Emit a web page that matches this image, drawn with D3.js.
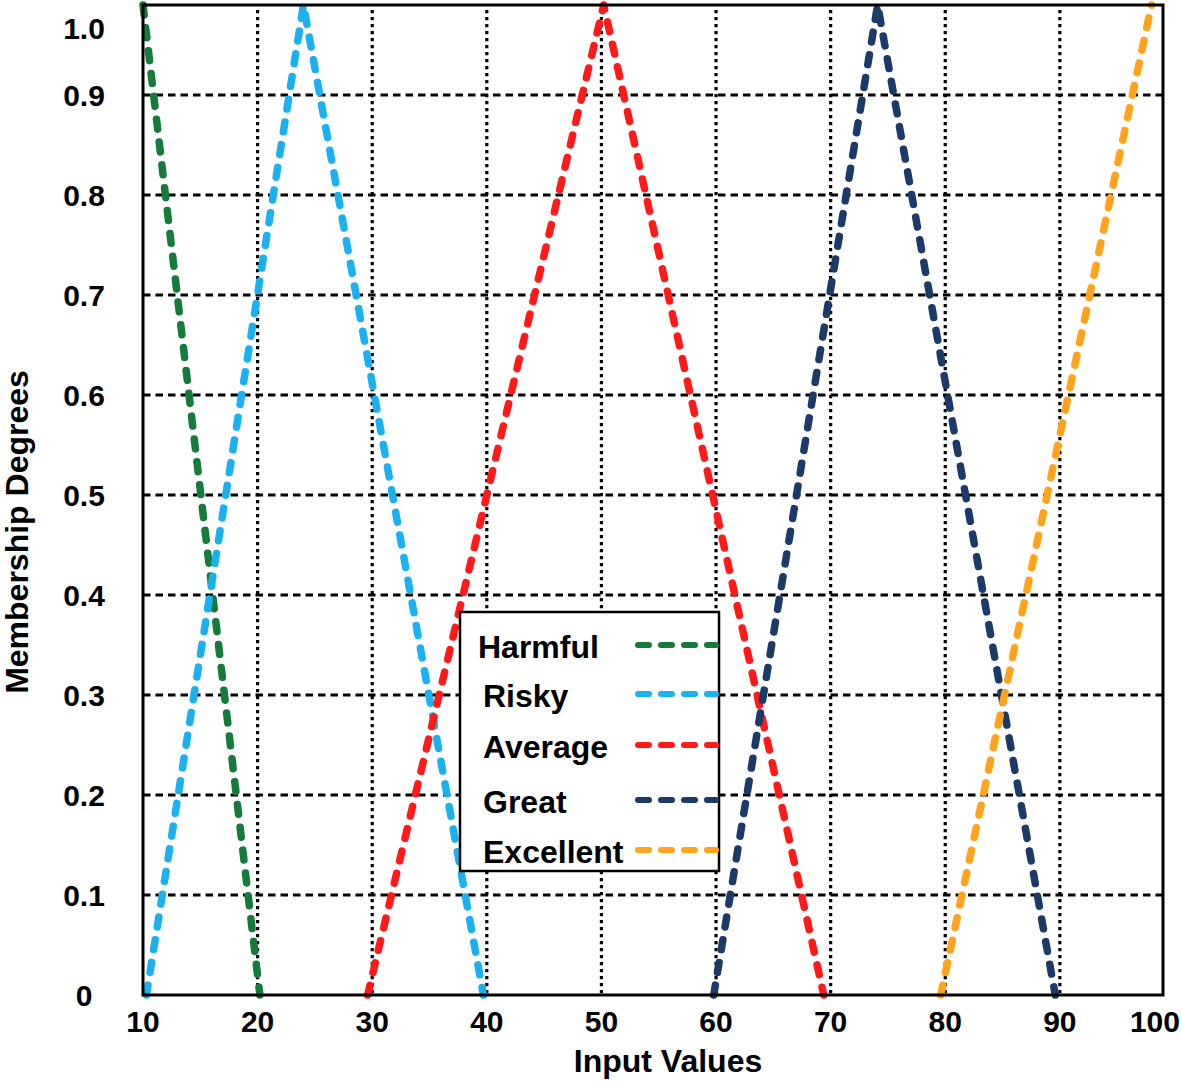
<!DOCTYPE html>
<html>
<head>
<meta charset="utf-8">
<script src="https://cdn.jsdelivr.net/npm/d3@7"></script>
<style>
  html, body { margin: 0; padding: 0; background: #fff; }
  svg { display: block; font-family: "Liberation Sans", Arial, sans-serif; }
</style>
</head>
<body>
<svg id="chart" width="1181" height="1084"></svg>
<script>
// ---- data ----
const seriesNames = ["Harmful", "Risky", "Average", "Great", "Excellent"];
const seriesColors = ["#167a3a", "#1ab1ee", "#ff1a1a", "#1b3a68", "#ffa21c"];
const harmful   = [[10, 0.99], [20.2, 0]];
const risky     = [[10.3, 0], [24, 0.99], [39.7, 0]];
const average   = [[29.6, 0], [50.2, 0.99], [69.4, 0]];
const great     = [[59.8, 0], [74.1, 0.99], [89.6, 0]];
const excellent = [[79.6, 0], [98, 0.99]];
const seriesData = [harmful, risky, average, great, excellent];

const xTickValues = [10, 20, 30, 40, 50, 60, 70, 80, 90, 100];
const xTickLabels = ["10", "20", "30", "40", "50", "60", "70", "80", "90", "100"];
const yTickValues = [0, 0.1, 0.2, 0.3, 0.4, 0.5, 0.6, 0.7, 0.8, 0.9, 1.0];
const yTickLabels = ["0", "0.1", "0.2", "0.3", "0.4", "0.5", "0.6", "0.7", "0.8", "0.9", "1.0"];
const xTitle = "Input Values";
const yTitle = "Membership Degrees";

// ---- layout ----
const svg = d3.select("#chart");
const pLeft = 143, pRight = 1163, pTop = 5, pBottom = 995;
const xMax = 99, yMax = 0.99;
const x = d3.scaleLinear().domain([10, xMax]).range([pLeft, pRight]);
const y = d3.scaleLinear().domain([0, yMax]).range([pBottom, pTop]);

// gridlines
const gridX = xTickValues.filter(v => v > 10 && v < xMax);
svg.append("g").selectAll("line").data(gridX).join("line")
  .attr("x1", d => x(d)).attr("x2", d => x(d))
  .attr("y1", pTop + 5).attr("y2", pBottom)
  .attr("stroke", "#000").attr("stroke-width", 3.2)
  .attr("stroke-dasharray", "3.2,3.8");
const gridY = yTickValues.filter(v => v > 0 && v < yMax);
svg.append("g").selectAll("line").data(gridY).join("line")
  .attr("x1", pLeft).attr("x2", pRight)
  .attr("y1", d => y(d)).attr("y2", d => y(d))
  .attr("stroke", "#000").attr("stroke-width", 2.8)
  .attr("stroke-dasharray", "7.5,5");

// series
const line = d3.line().x(d => x(d[0])).y(d => y(d[1]));
svg.append("g").selectAll("path").data(seriesData).join("path")
  .attr("d", d => line(d))
  .attr("fill", "none")
  .attr("stroke", (d, i) => seriesColors[i])
  .attr("stroke-width", 7.5)
  .attr("stroke-linecap", "round")
  .attr("stroke-linejoin", "round")
  .attr("stroke-dasharray", "10,13");

// frame
svg.append("rect")
  .attr("x", pLeft).attr("y", pTop)
  .attr("width", pRight - pLeft).attr("height", pBottom - pTop)
  .attr("fill", "none").attr("stroke", "#000").attr("stroke-width", 3);

// x tick labels
svg.append("g").selectAll("text").data(xTickValues).join("text")
  .attr("x", d => x(Math.min(d, 98.3)))
  .attr("y", 1032)
  .attr("text-anchor", "middle")
  .attr("font-size", 30).attr("font-weight", "bold")
  .text((d, i) => xTickLabels[i]);

// y tick labels
svg.append("g").selectAll("text").data(yTickValues).join("text")
  .attr("x", 84)
  .attr("y", d => y(Math.min(d, 0.967)) + 11)
  .attr("text-anchor", "middle")
  .attr("font-size", 30).attr("font-weight", "bold")
  .text((d, i) => yTickLabels[i]);

// axis titles
svg.append("text")
  .attr("x", 668).attr("y", 1072)
  .attr("text-anchor", "middle")
  .attr("font-size", 32).attr("font-weight", "bold")
  .text(xTitle);
svg.append("text")
  .attr("transform", "translate(28,532) rotate(-90)")
  .attr("text-anchor", "middle")
  .attr("font-size", 32).attr("font-weight", "bold")
  .text(yTitle);

// legend
const lg = svg.append("g");
lg.append("rect")
  .attr("x", 460).attr("y", 612).attr("width", 259).attr("height", 259)
  .attr("fill", "#fff").attr("stroke", "#000").attr("stroke-width", 2.5);
const rowY = [658, 707, 758, 813, 863];
const textX = [478, 483, 483, 483, 483];
const rows = lg.selectAll("g.row").data(seriesNames).join("g").attr("class", "row");
rows.append("text")
  .attr("x", (d, i) => textX[i]).attr("y", (d, i) => rowY[i])
  .attr("font-size", 32).attr("font-weight", "bold")
  .text(d => d);
rows.append("line")
  .attr("x1", 638).attr("x2", 716)
  .attr("y1", (d, i) => rowY[i] - 13).attr("y2", (d, i) => rowY[i] - 13)
  .attr("stroke", (d, i) => seriesColors[i])
  .attr("stroke-width", 6)
  .attr("stroke-linecap", "round")
  .attr("stroke-dasharray", "11,12");
</script>
</body>
</html>
